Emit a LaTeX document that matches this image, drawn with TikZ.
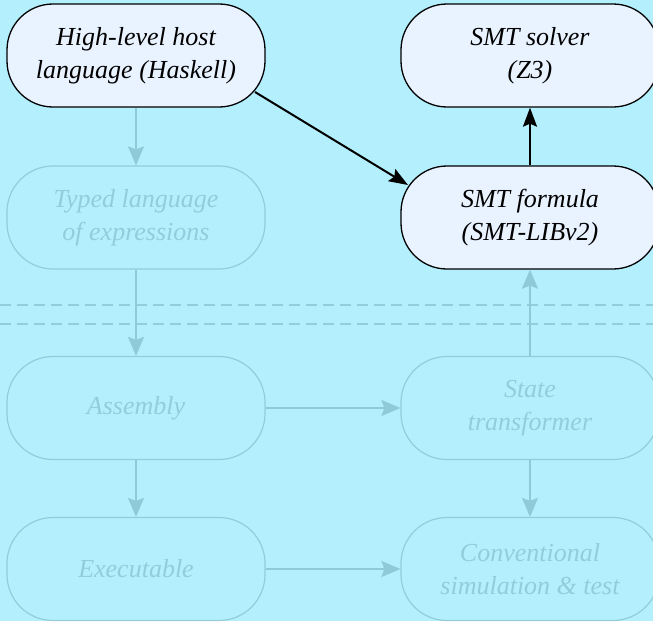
\documentclass[tikz,border=0pt]{standalone}
\usepackage{fontspec}
\setmainfont{Liberation Serif}
\usetikzlibrary{arrows.meta}
\definecolor{bg}{HTML}{B3EFFD}
\definecolor{hifill}{HTML}{E9F3FF}
\definecolor{fade}{HTML}{93CDDA}
\definecolor{fadearrow}{HTML}{8ECAD8}
\tikzset{
  box/.style={rectangle, rounded corners=46pt, minimum width=258pt, minimum height=103pt,
    align=center, inner sep=0pt, font=\fontsize{26}{33}\selectfont\itshape},
  hibox/.style={box, draw=black, line width=1.3pt, fill=hifill, text=black},
  fadebox/.style={box, draw=fade, line width=1.2pt, text=fade},
  hiarrow/.style={draw=black, line width=2pt, -{Stealth[length=19pt,width=14pt,inset=3pt]}},
  fadearr/.style={draw=fadearrow, line width=1.8pt, -{Stealth[length=19pt,width=16pt,inset=3pt]}},
  sepline/.style={draw=fade, line width=1.2pt, dash pattern=on 11pt off 6pt},
}
\begin{document}
\begin{tikzpicture}[x=1pt,y=-1pt]
\fill[bg] (0,0) rectangle (653,621);
\useasboundingbox (0,0) rectangle (653,621);
\coordinate (s1l) at (0,305); \coordinate (s1r) at (653,305);
\coordinate (s2l) at (0,324); \coordinate (s2r) at (653,324);
\draw[sepline] (s1l) -- (s1r);
\draw[sepline] (s2l) -- (s2r);
\node[hibox] (HL) at (136,55.5) {High-level host\\language (Haskell)};
\node[fadebox] (TL) at (136,217.5) {Typed language\\of expressions};
\node[fadebox] (AS) at (136,408) {Assembly};
\node[fadebox] (EX) at (136,569) {Executable};
\node[hibox] (SO) at (530,55.5) {SMT solver\\(Z3)};
\node[hibox] (FO) at (530,217.5) {SMT formula\\(SMT-LIBv2)};
\node[fadebox] (ST) at (530,408) {State\\transformer};
\node[fadebox] (CO) at (530,569) {Conventional\\simulation \& test};
\draw[fadearr] (HL) -- (TL);
\draw[fadearr] (TL) -- (AS);
\draw[fadearr] (AS) -- (EX);
\draw[fadearr] (AS) -- (ST);
\draw[fadearr] (EX) -- (CO);
\draw[fadearr] (ST) -- (CO);
\draw[fadearr] (ST) -- (FO);
\draw[hiarrow] (FO) -- (SO);
\draw[hiarrow] ([xshift=119pt,yshift=-36.5pt]HL.center) -- ([xshift=-122pt,yshift=32.5pt]FO.center);
\end{tikzpicture}
\end{document}
